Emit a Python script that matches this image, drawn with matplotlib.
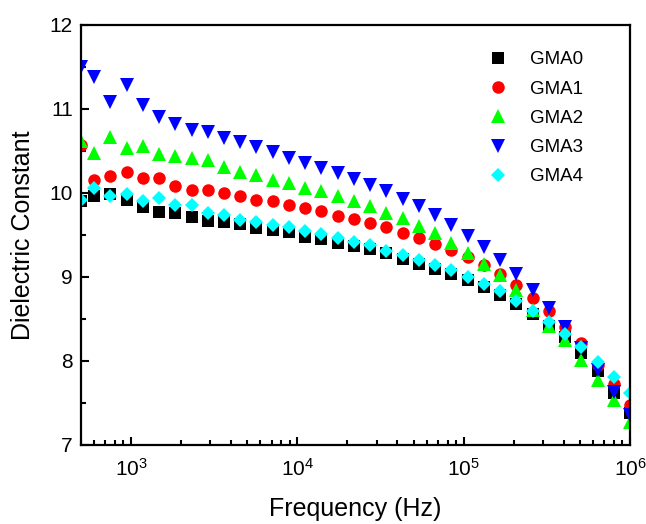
import matplotlib
matplotlib.use("Agg")
import matplotlib.pyplot as plt
from matplotlib.ticker import LogLocator, MultipleLocator, NullFormatter

plt.rcParams["font.family"] = ["Liberation Sans", "DejaVu Sans"]
plt.rcParams["mathtext.fontset"] = "custom"
plt.rcParams["mathtext.rm"] = "Liberation Sans"
plt.rcParams["mathtext.it"] = "Liberation Sans:italic"
plt.rcParams["mathtext.bf"] = "Liberation Sans:bold"

# frequencies (Hz)
freq = [500, 600, 750, 939, 1176, 1473, 1844, 2309, 2892, 3621,
        4534, 5675, 7107, 8898, 11143, 13953, 17470, 21878, 27390, 34300,
        42940, 53780, 67340, 84310, 105580, 132200, 165550, 207300, 259600, 325000,
        406900, 509600, 638000, 799000, 1000000]

gma0 = [9.90, 9.97, 9.99, 9.92, 9.83, 9.77, 9.76, 9.71, 9.67, 9.65,
        9.63, 9.58, 9.56, 9.53, 9.48, 9.45, 9.41, 9.37, 9.33, 9.28,
        9.22, 9.16, 9.10, 9.03, 8.96, 8.88, 8.78, 8.68, 8.56, 8.42,
        8.29, 8.10, 7.88, 7.62, 7.38]
gma1 = [10.57, 10.15, 10.20, 10.25, 10.18, 10.18, 10.08, 10.04, 10.04, 10.00,
        9.96, 9.92, 9.90, 9.86, 9.82, 9.78, 9.73, 9.69, 9.64, 9.59,
        9.52, 9.46, 9.39, 9.32, 9.24, 9.14, 9.04, 8.90, 8.75, 8.60,
        8.41, 8.22, 7.95, 7.73, 7.48]
gma2 = [10.62, 10.48, 10.67, 10.54, 10.56, 10.47, 10.44, 10.42, 10.39, 10.31,
        10.25, 10.21, 10.15, 10.12, 10.06, 10.02, 9.96, 9.90, 9.84, 9.76,
        9.70, 9.61, 9.52, 9.41, 9.28, 9.16, 9.02, 8.85, 8.61, 8.42,
        8.25, 8.01, 7.77, 7.54, 7.27]
gma3 = [11.50, 11.38, 11.08, 11.28, 11.05, 10.90, 10.82, 10.75, 10.73, 10.65,
        10.61, 10.55, 10.49, 10.42, 10.36, 10.30, 10.24, 10.17, 10.10, 10.02,
        9.93, 9.84, 9.74, 9.62, 9.49, 9.36, 9.20, 9.04, 8.84, 8.63,
        8.40, 8.15, 7.89, 7.63, 7.36]
gma4 = [9.92, 10.06, 9.96, 9.99, 9.90, 9.94, 9.86, 9.86, 9.76, 9.74,
        9.68, 9.65, 9.62, 9.59, 9.55, 9.51, 9.46, 9.42, 9.38, 9.31,
        9.26, 9.20, 9.14, 9.08, 9.00, 8.92, 8.83, 8.71, 8.59, 8.46,
        8.32, 8.17, 7.99, 7.81, 7.62]

labels = ["GMA0", "GMA1", "GMA2", "GMA3", "GMA4"]
colors = ["#000000", "#ff0000", "#00ff00", "#0000ff", "#00ffff"]
markers = ["s", "o", "^", "v", "D"]
sizes = [8, 9, 9.5, 9.5, 7.5]

fig = plt.figure(figsize=(6.46, 5.24), dpi=100)
ax = fig.add_axes([0.1254, 0.1508, 0.8498, 0.8015])

for ys, lab, c, m, s in zip([gma0, gma1, gma2, gma3, gma4], labels, colors, markers, sizes):
    ax.plot(freq, ys, linestyle="none", marker=m, markersize=s,
            color=c, markeredgewidth=0, label=lab)

ax.set_xscale("log")
ax.set_xlim(500, 1e6)
ax.set_ylim(7, 12)
ax.yaxis.set_major_locator(MultipleLocator(1))
ax.yaxis.set_minor_locator(MultipleLocator(0.5))
ax.xaxis.set_minor_locator(LogLocator(base=10, subs=range(2, 10)))
ax.xaxis.set_minor_formatter(NullFormatter())

for sp in ax.spines.values():
    sp.set_linewidth(1.6)
ax.tick_params(which="both", direction="in", top=False, right=False, width=1.5)
ax.tick_params(which="major", length=6, labelsize=15, pad=6)
ax.tick_params(axis="x", which="major", pad=9)
ax.tick_params(which="minor", length=3.5)

ax.set_xlabel("Frequency (Hz)", fontsize=18, labelpad=13)
ax.set_ylabel("Dielectric Constant", fontsize=18, labelpad=10)

ax.legend(loc="upper right", bbox_to_anchor=(0.945, 0.978), frameon=False,
          fontsize=13.5, handletextpad=0.7, labelspacing=0.65, markerscale=1.0)

fig.savefig("out.png", dpi=100)
